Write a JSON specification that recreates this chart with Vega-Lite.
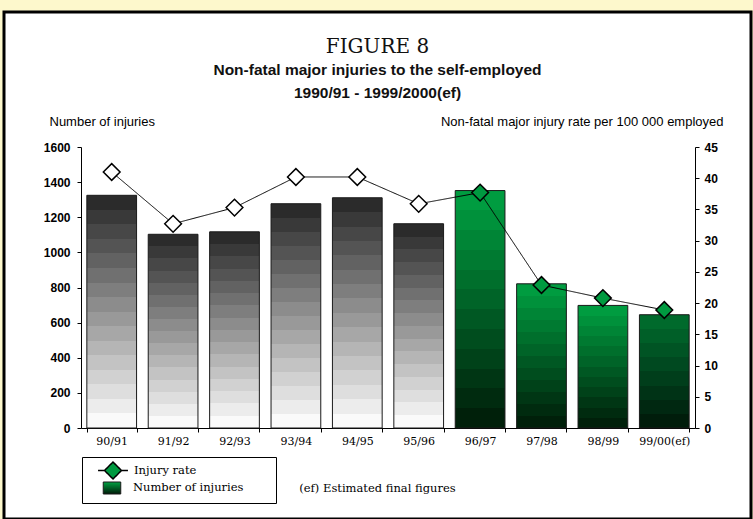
{
  "$schema": "https://vega.github.io/schema/vega-lite/v6.json",
  "width": 747,
  "height": 507,
  "autosize": {"type": "none"},
  "padding": {"left": 4, "top": 12, "right": 2, "bottom": 0},
  "background": "#fdf8cc",
  "config": {
    "view": {"fill": "white", "stroke": "black", "strokeWidth": 3},
    "axis": {"grid": false}
  },
  "title": {
    "text": "FIGURE 8",
    "subtitle": ["Non-fatal major injuries to the self-employed", "1990/91 - 1999/2000(ef)"],
    "anchor": "middle",
    "frame": "group",
    "offset": 0,
    "dy": 89,
    "font": "DejaVu Serif",
    "fontSize": 20,
    "fontWeight": "normal",
    "color": "#111111",
    "subtitleFont": "Liberation Sans",
    "subtitleFontSize": 15.5,
    "subtitleFontWeight": "bold",
    "subtitleColor": "#111111",
    "subtitleLineHeight": 23,
    "subtitlePadding": 6
  },
  "data": {
    "values": [
      {"period": "90/91", "injuries": 1325, "rate": 41.0, "series": "pre", "estimated": false},
      {"period": "91/92", "injuries": 1103, "rate": 32.7, "series": "pre", "estimated": false},
      {"period": "92/93", "injuries": 1117, "rate": 35.3, "series": "pre", "estimated": false},
      {"period": "93/94", "injuries": 1277, "rate": 40.2, "series": "pre", "estimated": false},
      {"period": "94/95", "injuries": 1311, "rate": 40.2, "series": "pre", "estimated": false},
      {"period": "95/96", "injuries": 1163, "rate": 35.9, "series": "pre", "estimated": false},
      {"period": "96/97", "injuries": 1352, "rate": 37.7, "series": "post", "estimated": false},
      {"period": "97/98", "injuries": 821, "rate": 22.9, "series": "post", "estimated": false},
      {"period": "98/99", "injuries": 698, "rate": 20.8, "series": "post", "estimated": false},
      {"period": "99/00(ef)", "injuries": 645, "rate": 18.9, "series": "post", "estimated": true}
    ]
  },
  "encoding": {
    "x": {
      "field": "period",
      "type": "nominal",
      "sort": ["90/91", "91/92", "92/93", "93/94", "94/95", "95/96", "96/97", "97/98", "98/99", "99/00(ef)"],
      "scale": {"range": [77, 691], "paddingInner": 0.19, "paddingOuter": 0.095},
      "axis": {
        "orient": "bottom",
        "offset": -91,
        "tickBand": "extent",
        "labelAngle": 0,
        "labelFont": "DejaVu Serif",
        "labelFontSize": 11,
        "labelColor": "black",
        "labelPadding": 3,
        "tickSize": 4,
        "tickColor": "black",
        "domainColor": "black",
        "title": "(ef) Estimated final figures",
        "titleFont": "DejaVu Serif",
        "titleFontSize": 11.5,
        "titleFontWeight": "normal",
        "titleColor": "black",
        "titleX": 373,
        "titleY": 60,
        "titleAlign": "center",
        "titleBaseline": "middle"
      }
    }
  },
  "layer": [
    {
      "encoding": {
        "y": {
          "field": "injuries",
          "type": "quantitative",
          "scale": {"domain": [0, 1600], "range": [416, 135]},
          "axis": {
            "orient": "left",
            "offset": -77,
            "format": "d",
            "values": [0, 200, 400, 600, 800, 1000, 1200, 1400, 1600],
            "domainColor": "black",
            "tickColor": "black",
            "tickSize": 4,
            "labelFont": "Liberation Sans",
            "labelFontWeight": "bold",
            "labelFontSize": 12,
            "labelColor": "black",
            "labelPadding": 7,
            "title": "Number of injuries",
            "titleAngle": 0,
            "titleAlign": "left",
            "titleBaseline": "middle",
            "titleX": -32,
            "titleY": 109,
            "titleFont": "Liberation Sans",
            "titleFontWeight": "normal",
            "titleFontSize": 13,
            "titleColor": "black"
          }
        },
        "stroke": {
          "datum": "Number of injuries",
          "type": "nominal",
          "scale": {"domain": ["Number of injuries"], "range": ["#1a1a1a"]},
          "legend": {
            "title": null,
            "orient": "none",
            "legendX": 101.5,
            "legendY": 469.5,
            "padding": 0,
            "symbolType": "M-1.46,-1L1.46,-1L1.46,1L-1.46,1Z",
            "symbolSize": 144,
            "symbolStrokeWidth": 1,
            "symbolOffset": 0,
            "labelOffset": 14.5,
            "labelFont": "DejaVu Serif",
            "labelFontSize": 11.5,
            "labelColor": "black",
            "labelLimit": 400
          }
        }
      },
      "layer": [
        {
          "transform": [{"filter": "datum.series == 'post' && !datum.estimated"}],
          "mark": {
            "type": "bar",
            "strokeWidth": 1,
            "fill": {
              "gradient": "linear", "x1": 0, "y1": 0, "x2": 0, "y2": 1,
              "stops": [
                {"offset": 0, "color": "#009c40"}, {"offset": 0.0833, "color": "#009c40"},
                {"offset": 0.0833, "color": "#00913b"}, {"offset": 0.1667, "color": "#00913b"},
                {"offset": 0.1667, "color": "#008536"}, {"offset": 0.25, "color": "#008536"},
                {"offset": 0.25, "color": "#007a31"}, {"offset": 0.3333, "color": "#007a31"},
                {"offset": 0.3333, "color": "#006f2c"}, {"offset": 0.4167, "color": "#006f2c"},
                {"offset": 0.4167, "color": "#006428"}, {"offset": 0.5, "color": "#006428"},
                {"offset": 0.5, "color": "#005823"}, {"offset": 0.5833, "color": "#005823"},
                {"offset": 0.5833, "color": "#004d1e"}, {"offset": 0.6667, "color": "#004d1e"},
                {"offset": 0.6667, "color": "#004219"}, {"offset": 0.75, "color": "#004219"},
                {"offset": 0.75, "color": "#003614"}, {"offset": 0.8333, "color": "#003614"},
                {"offset": 0.8333, "color": "#002b0f"}, {"offset": 0.9167, "color": "#002b0f"},
                {"offset": 0.9167, "color": "#00200a"}, {"offset": 1, "color": "#00200a"}
              ]
            }
          }
        },
        {
          "transform": [{"filter": "datum.series == 'pre'"}],
          "mark": {
            "type": "bar",
            "strokeWidth": 1,
            "fill": {
              "gradient": "linear", "x1": 0, "y1": 0, "x2": 0, "y2": 1,
              "stops": [
                {"offset": 0, "color": "#2b2b2b"}, {"offset": 0.0625, "color": "#2b2b2b"},
                {"offset": 0.0625, "color": "#393939"}, {"offset": 0.125, "color": "#393939"},
                {"offset": 0.125, "color": "#474747"}, {"offset": 0.1875, "color": "#474747"},
                {"offset": 0.1875, "color": "#545454"}, {"offset": 0.25, "color": "#545454"},
                {"offset": 0.25, "color": "#626262"}, {"offset": 0.3125, "color": "#626262"},
                {"offset": 0.3125, "color": "#707070"}, {"offset": 0.375, "color": "#707070"},
                {"offset": 0.375, "color": "#7e7e7e"}, {"offset": 0.4375, "color": "#7e7e7e"},
                {"offset": 0.4375, "color": "#8c8c8c"}, {"offset": 0.5, "color": "#8c8c8c"},
                {"offset": 0.5, "color": "#999999"}, {"offset": 0.5625, "color": "#999999"},
                {"offset": 0.5625, "color": "#a7a7a7"}, {"offset": 0.625, "color": "#a7a7a7"},
                {"offset": 0.625, "color": "#b5b5b5"}, {"offset": 0.6875, "color": "#b5b5b5"},
                {"offset": 0.6875, "color": "#c3c3c3"}, {"offset": 0.75, "color": "#c3c3c3"},
                {"offset": 0.75, "color": "#d1d1d1"}, {"offset": 0.8125, "color": "#d1d1d1"},
                {"offset": 0.8125, "color": "#dedede"}, {"offset": 0.875, "color": "#dedede"},
                {"offset": 0.875, "color": "#ececec"}, {"offset": 0.9375, "color": "#ececec"},
                {"offset": 0.9375, "color": "#fafafa"}, {"offset": 1, "color": "#fafafa"}
              ]
            }
          }
        },
        {
          "transform": [{"filter": "datum.estimated"}],
          "mark": {
            "type": "bar",
            "strokeWidth": 1,
            "fill": {
              "gradient": "linear", "x1": 0, "y1": 0, "x2": 0, "y2": 1,
              "stops": [
                {"offset": 0, "color": "#006a2c"}, {"offset": 0.125, "color": "#006a2c"},
                {"offset": 0.125, "color": "#005f28"}, {"offset": 0.25, "color": "#005f28"},
                {"offset": 0.25, "color": "#005424"}, {"offset": 0.375, "color": "#005424"},
                {"offset": 0.375, "color": "#004920"}, {"offset": 0.5, "color": "#004920"},
                {"offset": 0.5, "color": "#003e1b"}, {"offset": 0.625, "color": "#003e1b"},
                {"offset": 0.625, "color": "#003316"}, {"offset": 0.75, "color": "#003316"},
                {"offset": 0.75, "color": "#002811"}, {"offset": 0.875, "color": "#002811"},
                {"offset": 0.875, "color": "#001d0b"}, {"offset": 1, "color": "#001d0b"}
              ]
            }
          }
        }
      ]
    },
    {
      "encoding": {
        "y": {
          "field": "rate",
          "type": "quantitative",
          "scale": {"domain": [0, 45], "range": [416, 135]},
          "axis": {
            "orient": "right",
            "offset": -56,
            "values": [0, 5, 10, 15, 20, 25, 30, 35, 40, 45],
            "domainColor": "black",
            "tickColor": "black",
            "tickSize": 4,
            "labelFont": "Liberation Sans",
            "labelFontWeight": "bold",
            "labelFontSize": 12,
            "labelColor": "black",
            "labelPadding": 5,
            "title": "Non-fatal major injury rate per 100 000 employed",
            "titleAngle": 0,
            "titleAlign": "right",
            "titleBaseline": "middle",
            "titleX": 28,
            "titleY": 109,
            "titleFont": "Liberation Sans",
            "titleFontWeight": "normal",
            "titleFontSize": 13,
            "titleColor": "black"
          }
        }
      },
      "layer": [
        {
          "mark": {"type": "line", "color": "black", "strokeWidth": 1},
          "encoding": {
            "strokeDash": {
              "datum": "Injury rate",
              "type": "nominal",
              "scale": {"domain": ["Injury rate"], "range": [[1, 0]]},
              "legend": {
                "title": "\u200b",
                "titleOrient": "bottom",
                "titleFontSize": 15,
                "titlePadding": 2,
                "orient": "none",
                "legendX": 78,
                "legendY": 445,
                "padding": 4,
                "strokeColor": "black",
                "cornerRadius": 0,
                "symbolType": "M-1.76,0L-1,0M-1,0L0,-1L1,0L0,1ZM1,0L1.76,0",
                "symbolSize": 289,
                "symbolFillColor": "#009a40",
                "symbolStrokeColor": "black",
                "symbolStrokeWidth": 1.5,
                "symbolOffset": 17.5,
                "labelOffset": 11.5,
                "labelFont": "DejaVu Serif",
                "labelFontSize": 11.5,
                "labelColor": "black",
                "labelLimit": 400,
                "labelExpr": "datum.label + '\u2003\u2003\u2003\u2003\u2003\u2003\u2002\u200b'"
              }
            }
          }
        },
        {
          "mark": {"type": "point", "shape": "diamond", "filled": true, "size": 280, "stroke": "black", "strokeWidth": 1.5, "opacity": 1},
          "encoding": {
            "fill": {
              "field": "series",
              "type": "nominal",
              "scale": {"domain": ["pre", "post"], "range": ["white", "#009a40"]},
              "legend": null
            }
          }
        }
      ]
    }
  ],
  "resolve": {"scale": {"y": "independent"}, "axis": {"y": "independent"}}
}
